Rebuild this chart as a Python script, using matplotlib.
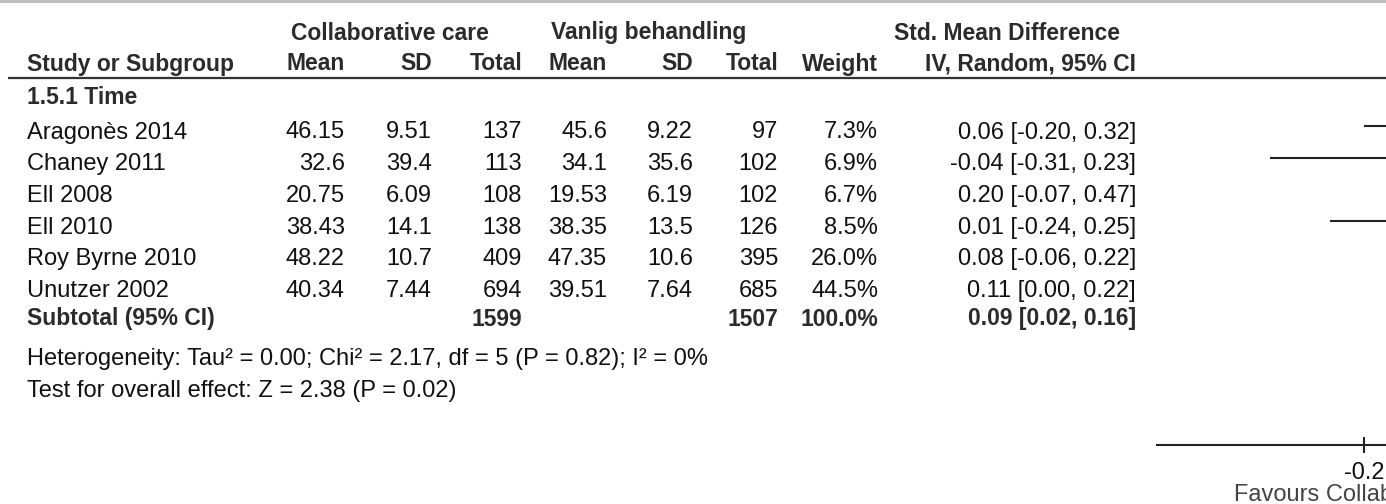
import matplotlib.pyplot as plt

# study data
studies = ['Aragonès 2014', 'Chaney 2011', 'Ell 2008', 'Ell 2010', 'Roy Byrne 2010', 'Unutzer 2002']
cc_mean = [46.15, 32.6, 20.75, 38.43, 48.22, 40.34]
cc_sd = [9.51, 39.4, 6.09, 14.1, 10.7, 7.44]
cc_total = [137, 113, 108, 138, 409, 694]
vb_mean = [45.6, 34.1, 19.53, 38.35, 47.35, 39.51]
vb_sd = [9.22, 35.6, 6.19, 13.5, 10.6, 7.64]
vb_total = [97, 102, 102, 126, 395, 685]
weight = [7.3, 6.9, 6.7, 8.5, 26.0, 44.5]
smd = [0.06, -0.04, 0.20, 0.01, 0.08, 0.11]
ci_lo = [-0.20, -0.31, -0.07, -0.24, -0.06, 0.00]
ci_hi = [0.32, 0.23, 0.47, 0.25, 0.22, 0.22]

sub_cc_total = 1599
sub_vb_total = 1507
sub_weight = 100.0
sub_smd, sub_lo, sub_hi = 0.09, 0.02, 0.16

heterogeneity = 'Heterogeneity: Tau² = 0.00; Chi² = 2.17, df = 5 (P = 0.82); I² = 0%'
overall = 'Test for overall effect: Z = 2.38 (P = 0.02)'
xticks = [-0.2]
xlim = (-0.443, -0.174)

W, H = 1386, 504
fig = plt.figure(figsize=(W / 100, H / 100), dpi=100)
fig.patch.set_facecolor('white')
ax = fig.add_axes([0, 0, 1, 1])
ax.set_xlim(0, W)
ax.set_ylim(H, 0)
ax.axis('off')

FONT = ['Liberation Sans', 'DejaVu Sans']
FS_REG = 17
FS_BOLD = 16.5
BOLD_C = '#2b2b2b'
REG_C = '#111111'

def txt(x, y, s, ha='right', bold=False):
    ax.text(x, y, s, ha=ha, va='baseline', family=FONT,
            fontsize=FS_BOLD if bold else FS_REG,
            fontweight='bold' if bold else 'normal',
            color=BOLD_C if bold else REG_C)

# grey band at the top
ax.axhspan(0, 2.5, color='#bfbfbf', lw=0)

# column right edges
cols = [345, 432, 522, 607, 693, 778, 878, 1136]

# headers
txt(390, 39.5, 'Collaborative care', ha='center', bold=True)
txt(649, 39.5, 'Vanlig behandling', ha='center', bold=True)
txt(1007, 39.5, 'Std. Mean Difference', ha='center', bold=True)
txt(27, 70.5, 'Study or Subgroup', ha='left', bold=True)
for x, h in zip(cols, ['Mean', 'SD', 'Total', 'Mean', 'SD', 'Total', 'Weight', 'IV, Random, 95% CI']):
    txt(x, 70.5, h, bold=True)
ax.plot([8, W], [77.5, 77.5], color='#333333', lw=1.6, solid_capstyle='butt')

txt(27, 104, '1.5.1 Time', ha='left', bold=True)

row0, row_h = 138.5, 31.7
row_base = [row0 + i * row_h for i in range(len(studies))]
for i, y in enumerate(row_base):
    txt(27, y, studies[i], ha='left')
    vals = [str(cc_mean[i]), str(cc_sd[i]), str(cc_total[i]),
            str(vb_mean[i]), str(vb_sd[i]), str(vb_total[i]),
            '%.1f%%' % weight[i],
            '%.2f [%.2f, %.2f]' % (smd[i], ci_lo[i], ci_hi[i])]
    for x, v in zip(cols, vals):
        txt(x, y, v)

sub_y = 325.5
txt(27, sub_y, 'Subtotal (95% CI)', ha='left', bold=True)
txt(cols[2], sub_y, str(sub_cc_total), bold=True)
txt(cols[5], sub_y, str(sub_vb_total), bold=True)
txt(cols[6], sub_y, '%.1f%%' % sub_weight, bold=True)
txt(cols[7], sub_y, '%.2f [%.2f, %.2f]' % (sub_smd, sub_lo, sub_hi), bold=True)

txt(27, 365, heterogeneity, ha='left')
txt(27, 397, overall, ha='left')

# forest plot panel
axis_y = 445
fx = fig.add_axes([1157 / W, (H - axis_y) / H, (W - 1157) / W, axis_y / H])
fx.set_xlim(*xlim)
fx.set_ylim(axis_y, 0)
fx.patch.set_alpha(0)
for s in ['top', 'left', 'right']:
    fx.spines[s].set_visible(False)
fx.spines['bottom'].set_linewidth(1.5)
fx.spines['bottom'].set_color('#222222')
fx.set_yticks([])
fx.set_xticks(xticks)
fx.set_xticklabels(['%g' % t for t in xticks], fontsize=FS_REG, family=FONT, color=REG_C)
fx.tick_params(axis='x', direction='inout', length=11.5, width=1.5, color='#222222', pad=6.5)

for i, y in enumerate(row_base):
    fx.plot([ci_lo[i], ci_hi[i]], [y - 12.5] * 2, color='#222222', lw=1.5, solid_capstyle='butt')
    fx.plot(smd[i], y - 12.5, 's', color='#222222', ms=4 + weight[i] / 4)
fx.fill([sub_lo, sub_smd, sub_hi, sub_smd], [sub_y - 9, sub_y - 15, sub_y - 9, sub_y - 3], color='black')

# the reference image is cropped on the right, so this label runs off the edge there too
ax.text(1234, 501, 'Favours Collaborative care', ha='left', va='baseline', fontsize=FS_REG,
        family=FONT, color='#444444')

fig.savefig('out.png', dpi=100)
